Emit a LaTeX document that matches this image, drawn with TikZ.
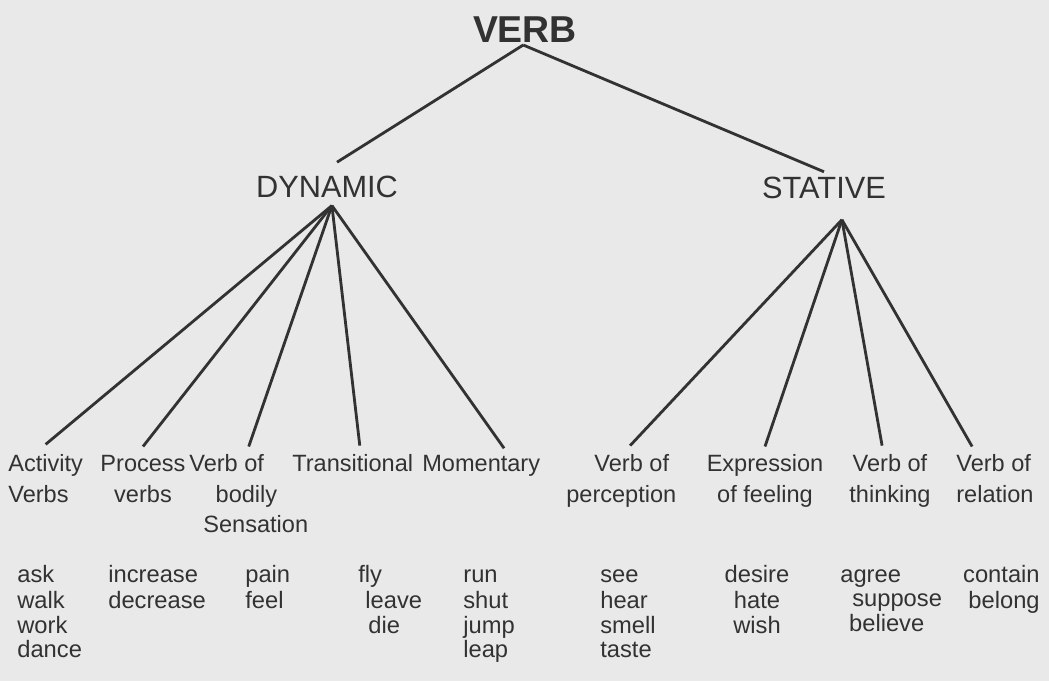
\documentclass[tikz,border=0pt]{standalone}
\usepackage{fontspec}
\setmainfont{Liberation Sans}
\definecolor{paper}{RGB}{233,233,233}
\definecolor{ink}{RGB}{50,50,50}

\begin{document}
\begin{tikzpicture}[x=0.02cm, y=-0.02cm,
    every node/.style={inner sep=0pt, text=ink},
    top/.style={font=\fontsize{21.3}{24}\selectfont\bfseries, anchor=base},
    kind/.style={font=\fontsize{17.5}{20}\selectfont, anchor=base},
    leaf/.style={font=\fontsize{13.4}{17.3}\selectfont, anchor=north},
    words/.style={font=\fontsize{13.5}{13.9}\selectfont, align=left, anchor=north west},
    branch/.style={draw=ink, line width=1.6pt}]
  \fill[paper] (0,0) rectangle (1049,681);
  \useasboundingbox (0,0) rectangle (1049,681);

  % Verb and its two kinds
  \node[top] (verb) at (525,42) {VERB};
  \node[kind] (dyn) at (327,197) {DYNAMIC};
  \node[kind] (stat) at (824,198) {STATIVE};
  \coordinate (verb-fork) at ([xshift=-1pt,yshift=-1.5pt]verb.south);
  \draw[branch] (verb-fork) -- ([xshift=5.7pt,yshift=7.4pt]dyn.north);
  \draw[branch] (verb-fork) -- ([yshift=2.5pt]stat.north);

  % Dynamic verbs
  \node[leaf, anchor=north west, align=left] (act) at (8,450) {\strut Activity\\Verbs};
  \node[leaf, align=center] (proc) at (143,450) {\strut Process\\verbs};
  \node[leaf, anchor=north west, align=left] (bod) at (189,450) {\strut Verb of\\\hspace*{15pt}bodily\\\hspace*{8pt}Sensation};
  \node[leaf, anchor=north west] (trans) at (292,450) {\strut Transitional};
  \node[leaf, anchor=north west] (mom) at (422,450) {\strut Momentary};

  \coordinate (dyn-fan) at ([xshift=2.8pt,yshift=-4.5pt]dyn.south);
  \draw[branch] (dyn-fan) -- ([yshift=3.2pt]act.north);
  \draw[branch] (dyn-fan) -- ([yshift=2pt]proc.north);
  \draw[branch] (dyn-fan) -- ([yshift=2pt]bod.north);
  \draw[branch] (dyn-fan) -- ([xshift=4pt,yshift=2.5pt]trans.north);
  \draw[branch] (dyn-fan) -- ([xshift=13pt,yshift=1pt]mom.north);

  % Stative verbs
  \node[leaf, anchor=north west, align=left] (perc) at (566,450) {\strut\hspace*{16pt}Verb of\\perception};
  \node[leaf, align=center] (feel) at (765,450) {\strut Expression\\of feeling};
  \node[leaf, align=center] (think) at (890,450) {\strut Verb of\\thinking};
  \node[leaf, anchor=north west, align=left] (rel) at (956,450) {\strut Verb of\\relation};

  \coordinate (stat-fan) at ([xshift=10.2pt,yshift=-12pt]stat.south);
  \draw[branch] (stat-fan) -- ([xshift=5pt,yshift=2.5pt]perc.north);
  \draw[branch] (stat-fan) -- ([yshift=2pt]feel.north);
  \draw[branch] (stat-fan) -- ([xshift=-4.5pt,yshift=2.5pt]think.north);
  \draw[branch] (stat-fan) -- ([xshift=-13pt,yshift=2pt]rel.north);

  % Examples
  \node[words] (ex-act) at (17,565) {\strut ask\\walk\\work\\dance};
  \node[words] (ex-proc) at (108,565) {\strut increase\\decrease};
  \node[words] (ex-bod) at (245,565) {\strut pain\\feel};
  \node[words] (ex-trans) at (358,565) {\strut fly\\\hspace*{4pt}leave\\\hspace*{5.7pt}die};
  \node[words] (ex-mom) at (463,565) {\strut run\\shut\\jump\\leap};
  \node[words] (ex-perc) at (600,565) {\strut see\\hear\\smell\\taste};
  \node[words, align=center, anchor=north] (ex-feel) at (757,565) {\strut desire\\hate\\wish};
  \node[words] (ex-think) at (840,565) {\strut agree\\\hspace*{6.8pt}suppose\\\hspace*{5pt}believe};
  \node[words, align=right, anchor=north east] (ex-rel) at (1040,565) {\strut contain\\belong};
\end{tikzpicture}
\end{document}
